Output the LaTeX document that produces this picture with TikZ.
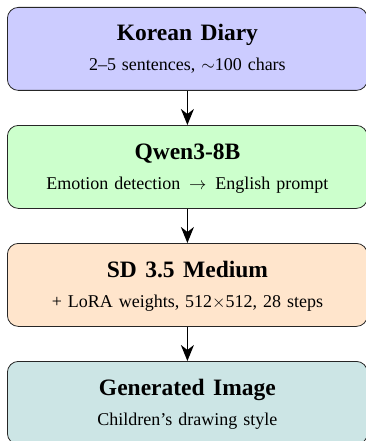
\documentclass[tikz,border=0pt]{standalone}
\usepackage{fontspec}
\setmainfont{Liberation Serif}
\usetikzlibrary{arrows.meta}
\definecolor{cA}{HTML}{CCCCFF}
\definecolor{cB}{HTML}{CCFFCC}
\definecolor{cC}{HTML}{FFE5CC}
\definecolor{cD}{HTML}{CCE5E5}
\newcommand\myttlfont{\fontsize{23.5}{27}\selectfont\bfseries\spaceskip=0.36em plus 0.1em\relax}
\newcommand\mysubfont{\fontsize{18}{21}\selectfont\spaceskip=0.33em plus 0.1em\relax}
\tikzset{
  box/.style={draw=black!85, line width=0.8pt, rounded corners=11pt, minimum width=360pt, minimum height=83pt, inner sep=0pt, anchor=north west},
  ttl/.style={anchor=base, font=\myttlfont, inner sep=0pt},
  sub/.style={anchor=base, font=\mysubfont, inner sep=0pt},
  arr/.style={line width=1.6pt, -{Stealth[length=16pt, width=13pt, inset=5pt]}}
}
\begin{document}
\begin{tikzpicture}[x=1pt, y=-1pt]
\useasboundingbox (0,0) rectangle (366,441);
\begin{scope}
\clip (0,0) rectangle (366,441);
\node[box, fill=cA] (b1) at (7,7) {};
\node[box, fill=cB] (b2) at (7,125) {};
\node[box, fill=cC] (b3) at (7,243) {};
\node[box, fill=cD] (b4) at (7,361) {};
\node[ttl] (t1) at ([yshift=-34pt]b1.north) {Korean Diary};
\node[sub] (s1) at ([yshift=-64pt]b1.north) {2--5 sentences, $\sim$100 chars};
\node[ttl] (t2) at ([yshift=-34pt]b2.north) {Qwen3-8B};
\node[sub] (s2) at ([yshift=-64pt]b2.north) {Emotion detection \,$\rightarrow$\, English prompt};
\node[ttl] (t3) at ([yshift=-34pt]b3.north) {SD 3.5 Medium};
\node[sub] (s3) at ([yshift=-64pt]b3.north) {+ LoRA weights, 512$\times$512, 28 steps};
\node[ttl] (t4) at ([yshift=-34pt]b4.north) {Generated Image};
\node[sub] (s4) at ([yshift=-64pt]b4.north) {Children's drawing style};
\draw[arr] (b1.south) -- (b2.north);
\draw[arr] (b2.south) -- (b3.north);
\draw[arr] (b3.south) -- (b4.north);
\end{scope}
\end{tikzpicture}
\end{document}
